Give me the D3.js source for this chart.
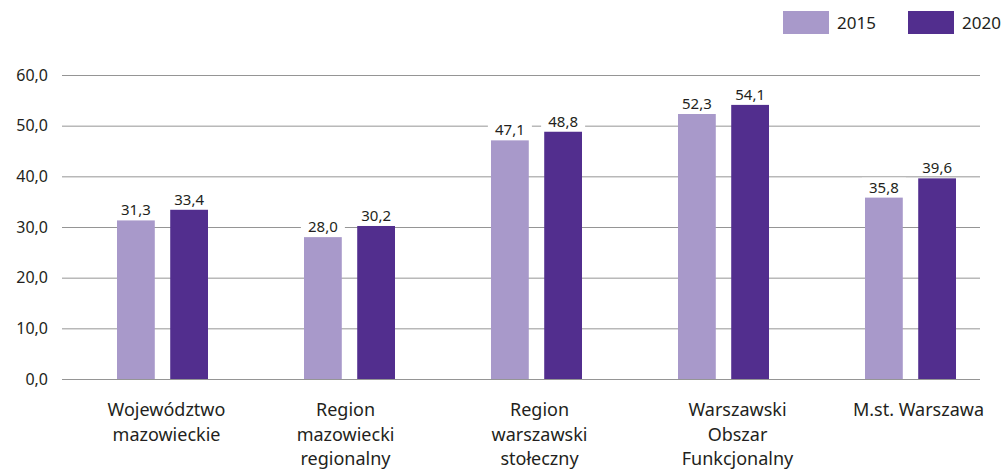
<!DOCTYPE html>
<html>
<head>
<meta charset="utf-8">
<script src="https://cdn.jsdelivr.net/npm/d3@7"></script>
<style>
  body { margin: 0; background: #fff; }
  svg { display: block; font-family: "Noto Sans", sans-serif; }
</style>
</head>
<body>
<svg id="chart" width="1008" height="471"></svg>
<script>
const categories = [
  ["Województwo", "mazowieckie"],
  ["Region", "mazowiecki", "regionalny"],
  ["Region", "warszawski", "stołeczny"],
  ["Warszawski", "Obszar", "Funkcjonalny"],
  ["M.st. Warszawa"]
];
const series = ["2015", "2020"];
const values2015 = [31.3, 28.0, 47.1, 52.3, 35.8];
const values2020 = [33.4, 30.2, 48.8, 54.1, 39.6];
const yTicks = [0, 10, 20, 30, 40, 50, 60];
const colors = { "2015": "#a899ca", "2020": "#522e8e" };
// small horizontal nudges of the category labels, as in the original layout
const labelNudge = [4, -4, 3, 14, 8];

const svg = d3.select('#chart');
const fmt = v => d3.format('.1f')(v).replace('.', ',');

const y = d3.scaleLinear().domain([0, 60]).range([379, 75]);
const x = d3.scaleBand().domain(d3.range(categories.length)).range([69, 1004]);
const inner = d3.scaleBand().domain(series).range([0, 91]).paddingInner(0.29);

// gridlines
svg.append('g').selectAll('line').data(yTicks).join('line')
  .attr('x1', 62).attr('x2', 980)
  .attr('y1', d => y(d) + 0.5).attr('y2', d => y(d) + 0.5)
  .attr('stroke', '#959595').attr('stroke-width', 1);

// y tick labels
svg.append('g').selectAll('text').data(yTicks).join('text')
  .attr('x', 48).attr('y', d => y(d) + 5.5)
  .attr('text-anchor', 'end')
  .attr('font-size', 16).attr('fill', '#231f20')
  .text(fmt);

const rows = [];
categories.forEach((c, i) => {
  rows.push({ i, s: "2015", v: values2015[i] });
  rows.push({ i, s: "2020", v: values2020[i] });
});

const bx = d => x(d.i) + x.bandwidth() / 2 - 45.5 + inner(d.s);

svg.append('g').selectAll('rect').data(rows).join('rect')
  .attr('x', bx)
  .attr('y', d => y(d.v))
  .attr('width', inner.bandwidth())
  .attr('height', d => y(0) - y(d.v))
  .attr('fill', d => colors[d.s]);

// value labels with white background over gridlines
const lbl = svg.append('g').selectAll('g').data(rows).join('g')
  .attr('transform', d => `translate(${bx(d) + inner.bandwidth() / 2},${y(d.v) - 5})`);
lbl.append('rect')
  .attr('x', -22).attr('y', -15).attr('width', 44).attr('height', 17)
  .attr('fill', '#fff');
lbl.append('text')
  .attr('text-anchor', 'middle')
  .attr('font-size', 15).attr('fill', '#231f20')
  .text(d => fmt(d.v));

// category labels
const cat = svg.append('g').selectAll('text').data(categories).join('text')
  .attr('text-anchor', 'middle')
  .attr('font-size', 18).attr('fill', '#231f20')
  .attr('transform', (d, i) => `translate(${x(i) + x.bandwidth() / 2 + labelNudge[i]},${416})`);
cat.selectAll('tspan').data(d => d).join('tspan')
  .attr('x', 0).attr('y', (d, j) => j * 24.5)
  .text(d => d);

// legend
const legend = svg.append('g').selectAll('g').data(series).join('g')
  .attr('transform', (d, i) => `translate(${783 + i * 125},11)`);
legend.append('rect').attr('width', 46).attr('height', 23).attr('fill', d => colors[d]);
legend.append('text').attr('x', 54).attr('y', 18)
  .attr('font-size', 17).attr('fill', '#231f20').text(d => d);
</script>
</body>
</html>
